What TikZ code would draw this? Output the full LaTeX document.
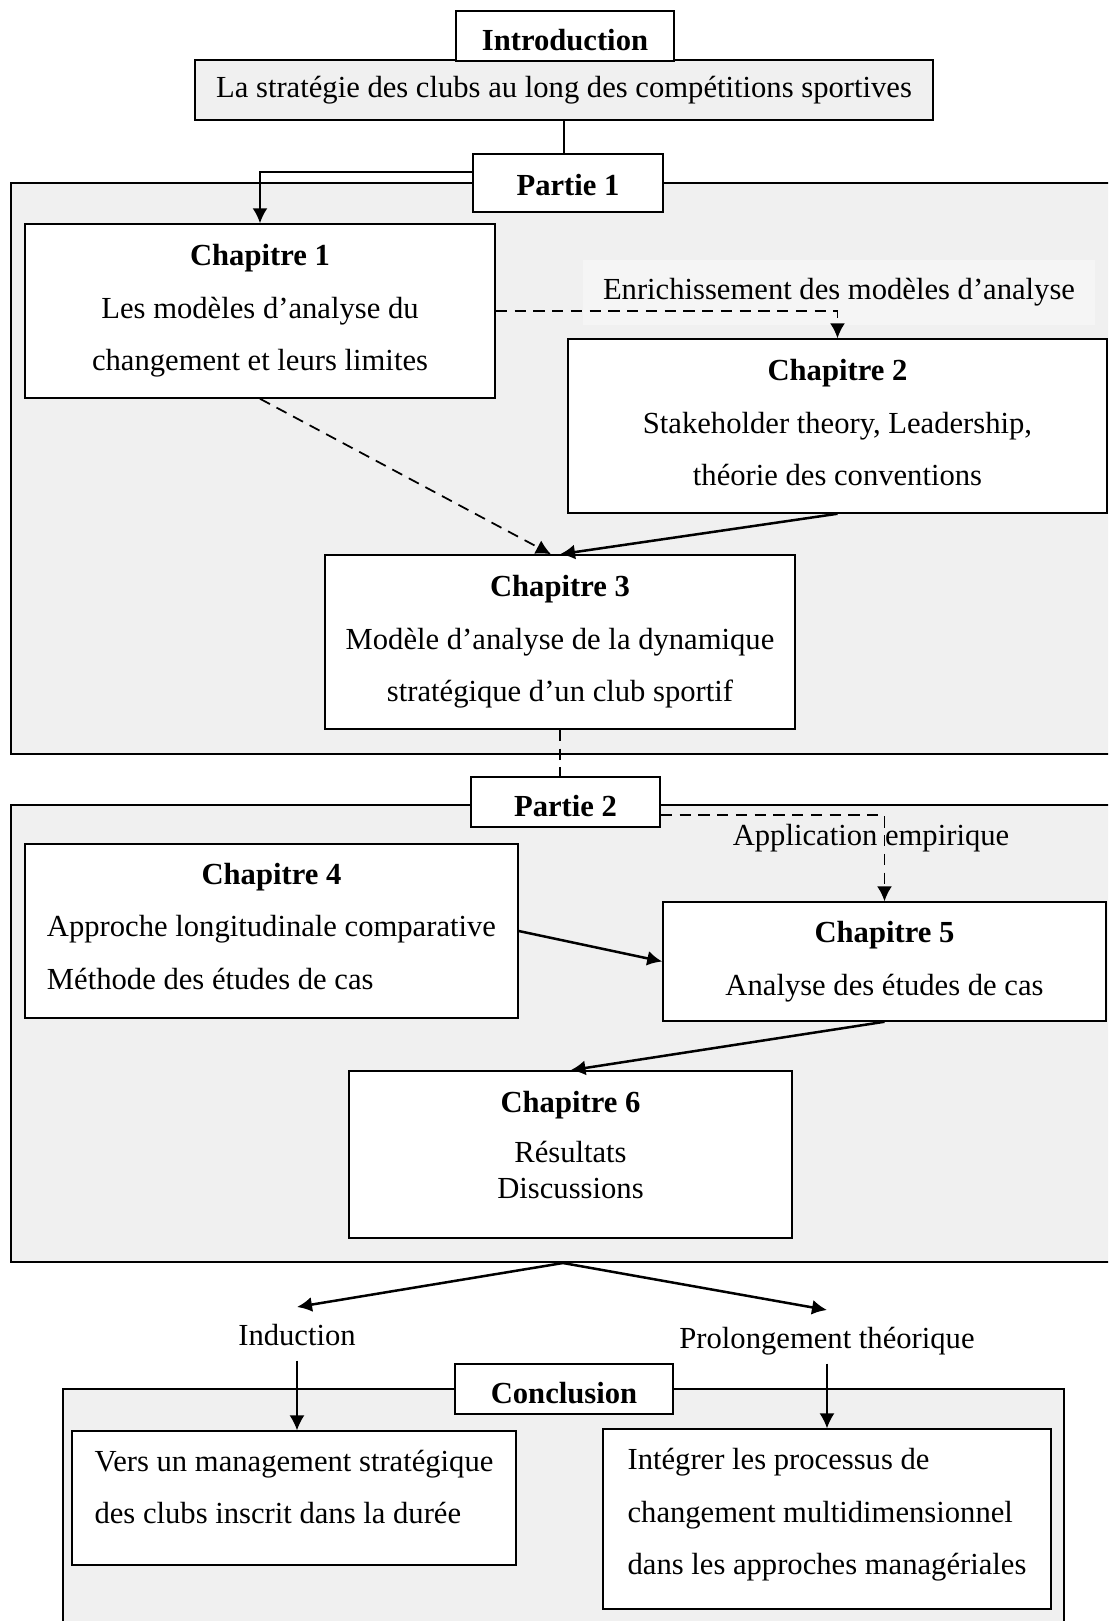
\documentclass[tikz,border=0pt]{standalone}
\usepackage{fontspec}
\setmainfont{Liberation Serif}
\usetikzlibrary{arrows.meta}

\definecolor{partgray}{RGB}{240,240,240}
\definecolor{notegray}{RGB}{245,245,245}

\begin{document}
\begin{tikzpicture}[x=0.4pt,y=-0.4pt,
  every node/.style={font=\fontsize{12.25}{21}\selectfont},
  box/.style={draw,rectangle,fill=white,line width=0.6pt,align=center,inner sep=0pt},
  title/.style={box,text height=11.5pt,text depth=0pt},
  partframe/.style={draw,rectangle,fill=partgray,line width=0.8pt,inner sep=0pt},
  lbl/.style={inner xsep=2pt,inner ysep=6pt,text height=9pt,text depth=0pt},
  arr/.style={-{Latex[length=6pt,width=6pt]}},
  dashline/.style={dash pattern=on 4.5pt off 3pt,line width=0.7pt}]

  \useasboundingbox (0,0) rectangle (1108,1621);
  \clip (0,0) rectangle (1108,1621);

  \node (sub) at (564,90) [box,fill=partgray,minimum width=295.2pt,minimum height=24pt]{La stratégie des clubs au long des compétitions sportives};
  \node (intro) at (565,36) [title,minimum width=87.2pt,minimum height=20pt]{\textbf{Introduction}};

  \node (f1) at (563,468.5) [partframe,minimum width=441.6pt,minimum height=228.4pt]{};
  \node (p1) at (568,183) [title,text height=10pt,minimum width=76pt,minimum height=23.2pt]{\textbf{Partie 1}};
  \node (ch1) at (260,311) [box,minimum width=188pt,minimum height=69.6pt]{\textbf{Chapitre 1}\\Les modèles d’analyse du\\changement et leurs limites};
  \node (enrich) at (839,292.5) [fill=notegray,minimum width=204.8pt,minimum height=26pt,inner sep=0pt]{Enrichissement des modèles d’analyse};
  \node (ch2) at (837.5,426) [box,minimum width=215.6pt,minimum height=69.6pt,text depth=2.6pt]{\textbf{Chapitre 2}\\Stakeholder theory, Leadership,\\théorie des conventions};
  \node (ch3) at (560,642) [box,minimum width=188pt,minimum height=69.6pt]{\textbf{Chapitre 3}\\Modèle d’analyse de la dynamique\\stratégique d’un club sportif};

  \node (f2) at (563,1033.5) [partframe,minimum width=441.6pt,minimum height=182.8pt]{};
  \node (p2) at (565.5,802) [title,minimum width=75.6pt,minimum height=20pt]{\textbf{Partie 2}};
  \node (app) at (871,845) [lbl,anchor=base]{Application empirique};
  \node (ch4) at (271.5,931) [box,minimum width=197.2pt,minimum height=69.6pt]{\begin{tabular}{@{}l@{}}\multicolumn{1}{@{}c@{}}{\textbf{Chapitre 4}}\\Approche longitudinale comparative\\Méthode des études de cas\\[3.8pt]\end{tabular}};
  \node (ch5) at (884.5,961.5) [box,minimum width=177.2pt,minimum height=47.6pt]{\textbf{Chapitre 5}\\Analyse des études de cas};
  \node (ch6) at (570.5,1154.5) [box,minimum width=177.2pt,minimum height=66.8pt,text depth=8pt,font=\fontsize{12.25}{14.4}\selectfont]{\textbf{Chapitre 6}\\[5.6pt]Résultats\\Discussions};

  \node (ind) at (297,1345) [lbl,anchor=base]{Induction};
  \node (prol) at (827,1348) [lbl,anchor=base]{Prolongement théorique};
  \node (f3) at (563.5,1524.5) [partframe,minimum width=400.4pt,minimum height=108.4pt]{};
  \node (concl) at (564,1389) [title,minimum width=87.2pt,minimum height=20pt]{\textbf{Conclusion}};
  \node (vers) at (294,1498) [box,align=left,minimum width=177.6pt,minimum height=53.6pt,text depth=9pt]{Vers un management stratégique\\des clubs inscrit dans la durée};
  \node (integ) at (827,1519) [box,align=left,minimum width=179.2pt,minimum height=72pt,text depth=6pt]{Intégrer les processus de\\changement multidimensionnel\\dans les approches managériales};

  \draw[line width=0.6pt] (sub.south) -- (sub.south |- p1.north);
  \draw[arr,line width=0.8pt] ([yshift=4.4pt]p1.west) -| (ch1.north);
  \draw[arr,dashline] (ch1.east) -| (ch2.north);
  \draw[arr,dashline] (ch1.south) -- ([xshift=-3.6pt]ch3.north);
  \draw[arr,line width=1pt] (ch2.south) -- (ch3.north);
  \draw[dashline] (ch3.south) -- (ch3.south |- p2.north);

  \draw[arr,dashline] ([yshift=-5.2pt]p2.east) -| (ch5.north);
  \draw[arr,line width=1pt] (ch4.east) -- (ch5.west);
  \draw[arr,line width=1pt] (ch5.south) -- (ch6.north);

  \draw[arr,line width=1pt] (f2.south) -- (ind.north);
  \draw[arr,line width=1pt] (f2.south) -- (prol.north);
  \draw[arr,line width=0.6pt] (ind.south) -- (ind.south |- vers.north);
  \draw[arr,line width=0.6pt] (prol.south) -- (prol.south |- integ.north);

\end{tikzpicture}
\end{document}
